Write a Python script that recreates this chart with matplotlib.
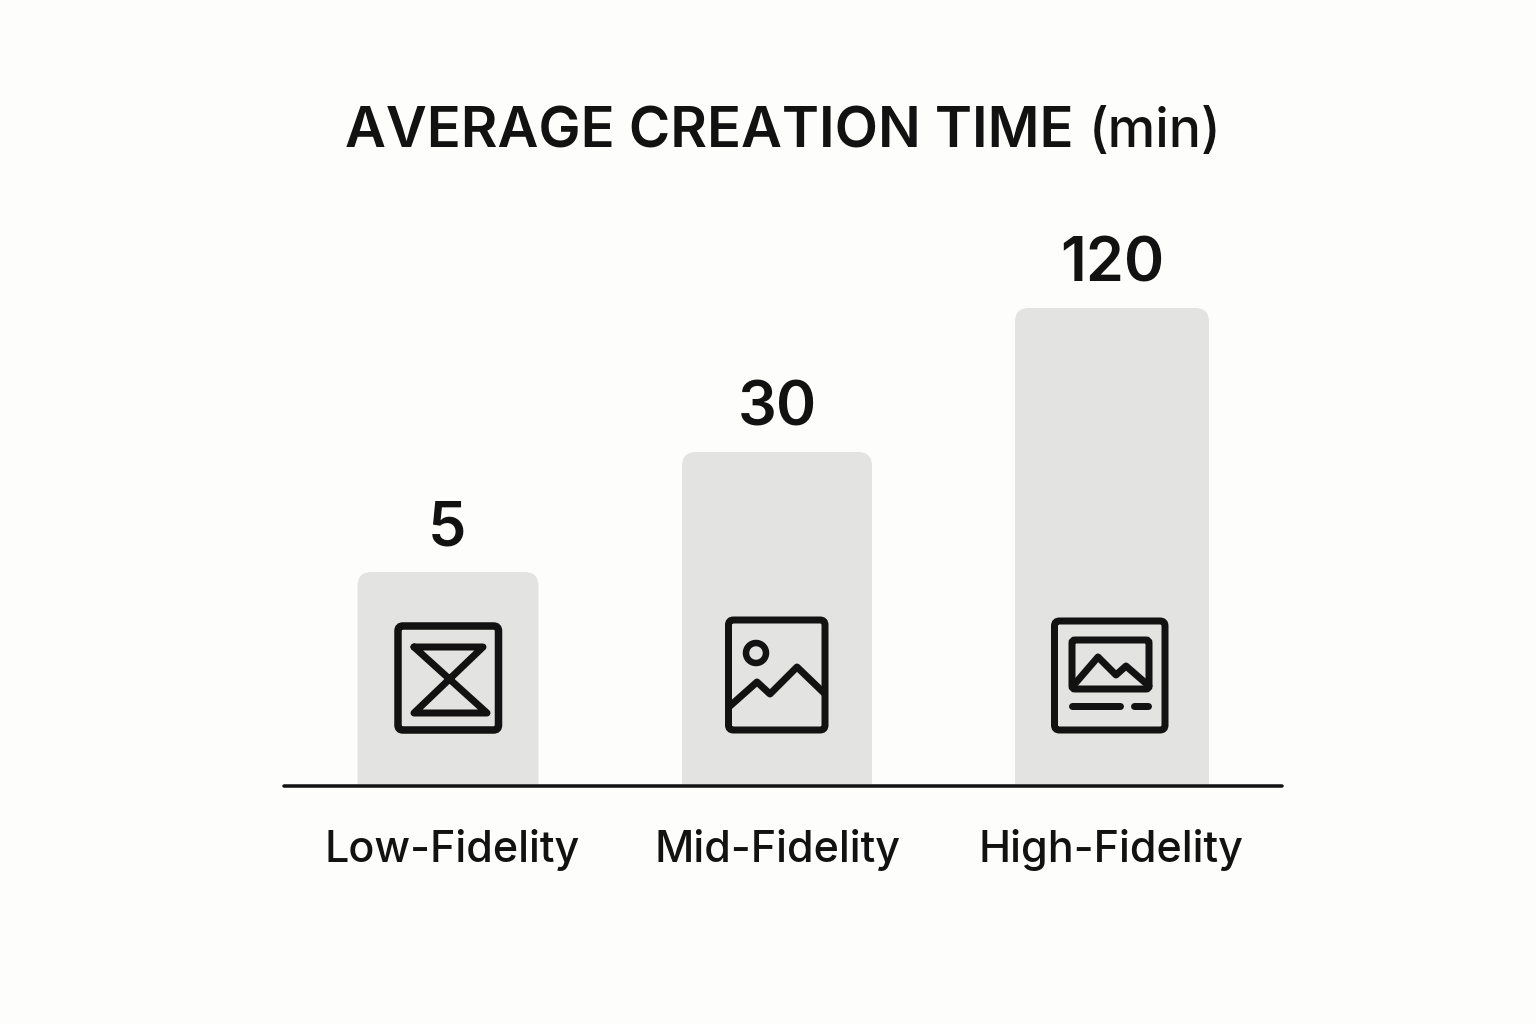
import numpy as np
import matplotlib
matplotlib.use("Agg")
import matplotlib.pyplot as plt
from matplotlib.path import Path
from matplotlib.patches import PathPatch, Circle, FancyBboxPatch

# Data
categories = ["Low-Fidelity", "Mid-Fidelity", "High-Fidelity"]
values = [5, 30, 120]
title_main = "AVERAGE CREATION TIME"
title_unit = "(min)"
# The reference bars are not linear in value: this is the visual scale it uses.
scale_values = [0, 5, 30, 120]
scale_heights = [0, 212, 332, 476]

BG = "#FDFDFB"
BAR = "#E3E3E1"
INK = "#121212"
FONT = ["Inter", "DejaVu Sans"]
PX = 72 / 100  # one pixel in points

fig = plt.figure(figsize=(15.36, 10.24), dpi=100, facecolor=BG)
ax = fig.add_axes([0, 0, 1, 1])
ax.set_xlim(0, 1536)
ax.set_ylim(1024, 0)
ax.axis("off")

BASE = 784
centers = [448, 777, 1112]
widths = [181, 190, 194]
label_x = [452, 778, 1111]
value_x = [447, 777, 1112]


def rounded_top_bar(cx, w, h, r=14):
    l, rr, t = cx - w / 2, cx + w / 2, BASE - h
    verts = [(l, BASE), (l, t + r), (l, t), (l + r, t), (rr - r, t), (rr, t), (rr, t + r), (rr, BASE), (l, BASE)]
    codes = [Path.MOVETO, Path.LINETO, Path.CURVE3, Path.CURVE3, Path.LINETO, Path.CURVE3, Path.CURVE3, Path.LINETO, Path.CLOSEPOLY]
    return PathPatch(Path(verts, codes), fc=BAR, ec="none", zorder=1)


heights = np.interp(values, scale_values, scale_heights)
for cx, w, h, vx, lx, v, c in zip(centers, widths, heights, value_x, label_x, values, categories):
    ax.add_patch(rounded_top_bar(cx, w, h))
    ax.text(vx, BASE - h - 43, str(v), ha="center", va="center", fontsize=44, fontweight=600,
            family=FONT, color=INK, zorder=4)
    ax.text(lx, 850, c, ha="center", va="center", fontsize=31, fontweight=500,
            family=FONT, color=INK, zorder=4)

# Baseline
ax.plot([284, 1282], [786, 786], color=INK, lw=3.5 * PX, solid_capstyle="round", zorder=3)

# Title
ax.text(345, 133, title_main, ha="left", va="center", fontsize=40.5, fontweight=600, family=FONT, color=INK)
ax.text(1221, 133, title_unit, ha="right", va="center", fontsize=38.5, fontweight=500, family=FONT, color=INK)


def box(x0, y0, x1, y1, lw=7, r=5):
    ax.add_patch(FancyBboxPatch((x0 + r, y0 + r), x1 - x0 - 2 * r, y1 - y0 - 2 * r,
                                boxstyle=f"round,pad={r},rounding_size={r}",
                                fc="none", ec=INK, lw=lw * PX, zorder=3))


def line(pts, lw=7):
    xs, ys = zip(*pts)
    ax.plot(xs, ys, color=INK, lw=lw * PX, solid_capstyle="round", solid_joinstyle="round", zorder=3)


# Icon 1: crossed hourglass
box(398, 626, 498.5, 730, lw=7.5)
line([(414, 647), (483, 647), (414, 713), (487, 713), (414, 647)], lw=7)

# Icon 2: picture
box(728.5, 620, 825, 730)
ax.add_patch(Circle((756, 653), 10, fc="none", ec=INK, lw=6.5 * PX, zorder=3))
line([(730, 706), (757, 682), (770, 694), (797, 667), (824, 693)])

# Icon 3: picture with caption
box(1054.5, 621, 1165, 730)
box(1072, 640, 1149, 689, r=3)
line([(1073, 686), (1098, 657), (1116, 675), (1126, 666), (1149, 686)])
line([(1072, 706), (1120, 706)])
line([(1134, 706), (1148, 706)])

fig.savefig("out.png", dpi=100, facecolor=BG)
